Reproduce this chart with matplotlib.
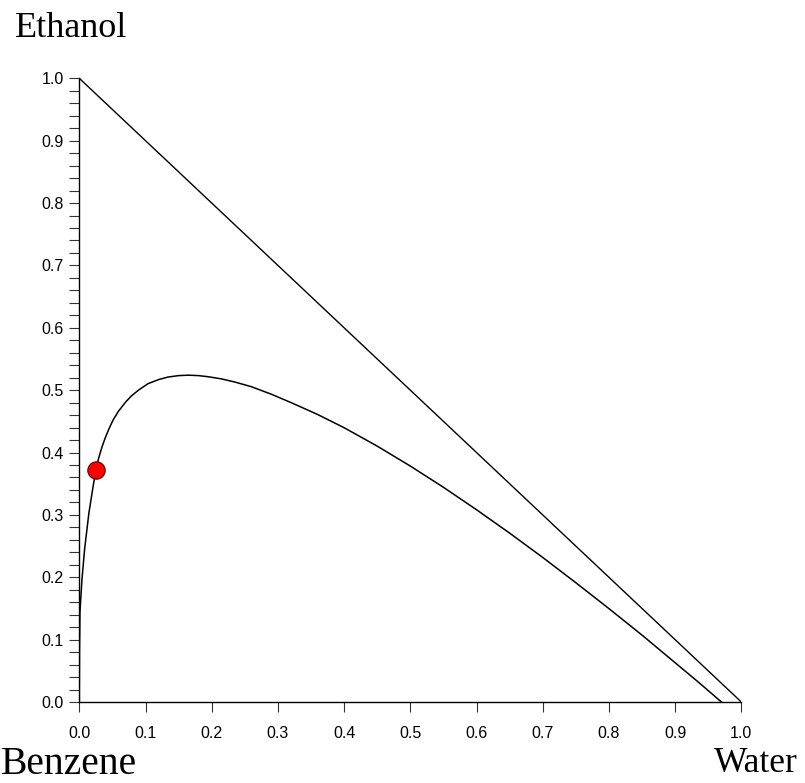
import matplotlib
matplotlib.use("Agg")
import matplotlib.pyplot as plt
from matplotlib.ticker import MultipleLocator, FormatStrFormatter

# Binodal (two-phase boundary) curve: x = Water fraction, y = Ethanol fraction
binodal_x = [0.0, 0.0003, 0.001, 0.004, 0.008, 0.0145, 0.02, 0.025, 0.029, 0.034,
             0.039, 0.044, 0.051, 0.059, 0.07, 0.079, 0.09, 0.104, 0.12, 0.134,
             0.15, 0.165, 0.18, 0.195, 0.215, 0.235, 0.26, 0.29, 0.32, 0.36,
             0.40, 0.45, 0.50, 0.55, 0.60, 0.65, 0.70, 0.75, 0.80, 0.85,
             0.90, 0.935, 0.97]
binodal_y = [0.0, 0.08, 0.145, 0.196, 0.245, 0.303, 0.34, 0.372, 0.39, 0.408,
             0.423, 0.436, 0.452, 0.466, 0.481, 0.491, 0.5005, 0.5105, 0.517, 0.521,
             0.5233, 0.524, 0.5233, 0.5215, 0.518, 0.513, 0.5055, 0.4935, 0.480, 0.461,
             0.4398, 0.4103, 0.3783, 0.3443, 0.3083, 0.2708, 0.2318, 0.1913, 0.1498, 0.1073,
             0.063, 0.032, 0.0]

# Triangle hypotenuse
edge_x = [0.0, 1.0]
edge_y = [1.0, 0.0]

# Marked point
point_x = [0.025]
point_y = [0.372]

corner_labels = ["Ethanol", "Benzene", "Water"]

W, H = 805, 783
fig = plt.figure(figsize=(W / 100, H / 100), dpi=100)
ax = fig.add_axes([79.3 / W, 1 - 702 / H, (741.3 - 79.3) / W, (702 - 78.3) / H])

ax.plot(edge_x, edge_y, color="black", lw=1.0, solid_capstyle="butt")
ax.plot(binodal_x, binodal_y, color="black", lw=1.1, solid_joinstyle="round")
ax.plot(point_x, point_y, "o", color="#ff0000", markersize=12.5,
        markeredgecolor="#550000", markeredgewidth=0.8, zorder=5)

ax.set_xlim(0, 1)
ax.set_ylim(0, 1)
for s in ["top", "right"]:
    ax.spines[s].set_visible(False)
for s in ["left", "bottom"]:
    ax.spines[s].set_linewidth(1.0)
    ax.spines[s].set_color("black")

ax.xaxis.set_major_locator(MultipleLocator(0.1))
ax.yaxis.set_major_locator(MultipleLocator(0.1))
ax.yaxis.set_minor_locator(MultipleLocator(0.02))
ax.xaxis.set_major_formatter(FormatStrFormatter("%.1f"))
ax.yaxis.set_major_formatter(FormatStrFormatter("%.1f"))

ax.tick_params(axis="x", which="major", direction="out", length=7.2, width=0.8,
               color="#333333", pad=10, labelsize=11.5)
ax.tick_params(axis="y", which="both", direction="out", length=7.2, width=0.8,
               color="#333333", pad=4, labelsize=11.5)
for lab in ax.get_xticklabels() + ax.get_yticklabels():
    lab.set_family("Liberation Sans")

serif = "Liberation Serif"
fig.text(15 / W, 1 - 37.3 / H, corner_labels[0], family=serif, fontsize=26,
         ha="left", va="baseline")
fig.text(1 / W, 1 - 774 / H, corner_labels[1], family=serif, fontsize=28.5,
         ha="left", va="baseline")
fig.text(798 / W, 1 - 771.7 / H, corner_labels[2], family=serif, fontsize=25.5,
         ha="right", va="baseline")

fig.savefig("out.png", dpi=100)
